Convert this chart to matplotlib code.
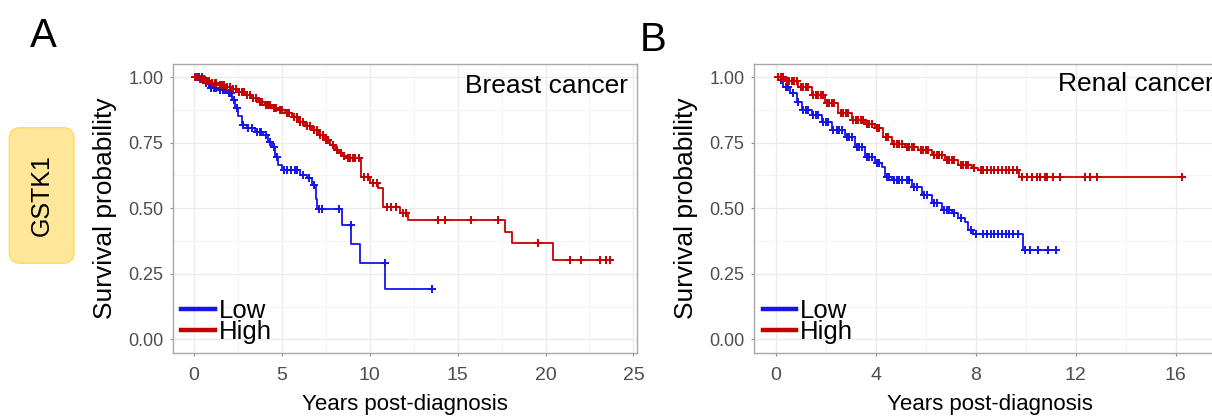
import numpy as np
import matplotlib
matplotlib.use("Agg")
import matplotlib.pyplot as plt
from matplotlib.patches import FancyBboxPatch
from matplotlib.lines import Line2D

plt.rcParams['font.family'] = ['Liberation Sans', 'DejaVu Sans']

# ---------------- data ----------------
group_labels = ["Low", "High"]
panel_titles = ["Breast cancer", "Renal cancer"]
panel_letters = ["A", "B"]
gene_label = "GSTK1"

# Breast cancer, Low expression
breast_low_t = [0, 0.65, 0.93, 1.41, 1.88, 2.17, 2.35, 2.54, 2.73, 3.02, 3.49, 3.97, 4.25, 4.48,
                4.63, 4.82, 5.01, 6.05, 6.43, 6.72, 6.94, 6.98, 7.02, 8.46, 8.97, 9.45, 10.9]
breast_low_s = [1.0, 0.977, 0.958, 0.951, 0.939, 0.913, 0.882, 0.850, 0.818, 0.805, 0.792, 0.780,
                0.754, 0.735, 0.697, 0.665, 0.646, 0.627, 0.614, 0.588, 0.563, 0.535, 0.499, 0.438,
                0.365, 0.293, 0.193]
breast_low_end = 13.55
breast_low_cens = [0.3, 0.5, 0.7, 0.85, 1.0, 1.15, 1.3, 1.5, 1.65, 1.8, 2.0, 2.1, 2.3, 2.45, 2.8,
                   3.1, 3.3, 3.6, 3.75, 3.85, 4.1, 4.35, 4.55, 4.75, 5.15, 5.3, 5.55, 5.75, 5.9,
                   6.2, 6.55, 6.85, 7.15, 7.3, 8.27, 8.93, 10.87, 13.55]

# Breast cancer, High expression
breast_high_t = [0, 0.3, 0.65, 1.0, 1.41, 1.8, 2.17, 2.55, 2.92, 3.3, 3.68, 4.05, 4.44, 4.8, 5.2,
                 5.6, 5.96, 6.35, 6.72, 7.1, 7.47, 7.75, 8.04, 8.25, 8.42, 8.7, 9.5, 10.03, 10.5,
                 10.76, 11.74, 12.21, 17.71, 18.09, 20.43]
breast_high_s = [1.0, 0.994, 0.986, 0.978, 0.971, 0.962, 0.955, 0.944, 0.932, 0.920, 0.907, 0.895,
                 0.884, 0.873, 0.862, 0.847, 0.830, 0.815, 0.799, 0.780, 0.760, 0.742, 0.722, 0.710,
                 0.700, 0.693, 0.620, 0.595, 0.576, 0.506, 0.480, 0.457, 0.410, 0.366, 0.302]
breast_high_end = 23.69
breast_high_cens = [0.1, 0.2, 0.35, 0.5, 0.6, 0.75, 0.9, 1.05, 1.2, 1.3, 1.5, 1.6, 1.75, 1.9, 2.05,
                    2.25, 2.4, 2.6, 2.75, 2.85, 3.05, 3.2, 3.4, 3.55, 3.75, 3.9, 4.1, 4.25, 4.35,
                    4.55, 4.7, 4.9, 5.05, 5.3, 5.45, 5.7, 5.85, 6.05, 6.2, 6.45, 6.6, 6.85, 7.0,
                    7.2, 7.35, 7.55, 7.65, 7.9, 8.15, 8.35, 8.55, 8.75, 8.9, 9.05, 9.2, 9.4, 9.7,
                    9.9, 10.2, 10.4, 11.0, 11.2, 11.5, 11.9, 12.1, 13.87, 14.26, 15.77, 17.29,
                    19.57, 21.37, 22.04, 23.08, 23.46, 23.69]

# Renal cancer, Low expression
renal_low_t = [0, 0.11, 0.31, 0.57, 0.84, 1.04, 1.44, 1.84, 2.24, 2.77, 3.17, 3.57, 3.97, 4.24,
               4.37, 4.64, 5.44, 5.84, 6.24, 6.64, 7.04, 7.3, 7.57, 7.7, 7.9, 9.9]
renal_low_s = [1.0, 0.990, 0.964, 0.939, 0.907, 0.875, 0.856, 0.830, 0.799, 0.773, 0.735, 0.697,
               0.671, 0.658, 0.620, 0.608, 0.582, 0.550, 0.519, 0.493, 0.480, 0.461, 0.448, 0.416,
               0.401, 0.340]
renal_low_end = 11.21
renal_low_cens = [0.2, 0.4, 0.5, 0.7, 0.9, 1.1, 1.2, 1.3, 1.5, 1.6, 1.7, 1.9, 2.0, 2.1, 2.3, 2.45,
                  2.55, 2.65, 2.85, 2.95, 3.05, 3.25, 3.35, 3.45, 3.65, 3.75, 3.85, 4.05, 4.15,
                  4.45, 4.55, 4.75, 4.85, 4.95, 5.05, 5.25, 5.35, 5.55, 5.65, 5.95, 6.05, 6.35,
                  6.45, 6.75, 6.85, 6.95, 7.15, 7.4, 7.8, 8.0, 8.3, 8.44, 8.6, 8.75, 8.9, 9.05,
                  9.2, 9.35, 9.5, 9.7, 9.97, 10.17, 10.5, 10.9, 11.21]

# Renal cancer, High expression
renal_high_t = [0, 0.37, 0.91, 1.44, 1.97, 2.5, 3.04, 3.57, 3.97, 4.3, 4.64, 5.17, 5.7, 6.24,
                6.77, 7.3, 7.84, 8.1, 9.75]
renal_high_s = [1.0, 0.986, 0.964, 0.932, 0.901, 0.862, 0.837, 0.820, 0.805, 0.773, 0.744, 0.735,
                0.722, 0.703, 0.684, 0.665, 0.655, 0.646, 0.618]
renal_high_end = 16.24
renal_high_cens = [0.1, 0.2, 0.3, 0.45, 0.55, 0.65, 0.75, 0.85, 1.0, 1.1, 1.2, 1.3, 1.5, 1.6, 1.7,
                   1.8, 1.9, 2.05, 2.15, 2.25, 2.35, 2.6, 2.7, 2.8, 2.9, 3.1, 3.2, 3.3, 3.4, 3.5,
                   3.65, 3.75, 3.85, 4.05, 4.15, 4.4, 4.5, 4.75, 4.85, 4.95, 5.05, 5.25, 5.35,
                   5.45, 5.55, 5.8, 5.9, 6.0, 6.1, 6.35, 6.45, 6.55, 6.65, 6.85, 6.95, 7.05, 7.15,
                   7.4, 7.5, 7.6, 7.7, 7.95, 8.2, 8.3, 8.45, 8.6, 8.75, 8.9, 9.05, 9.2, 9.35, 9.5,
                   9.65, 9.84, 10.04, 10.24, 10.44, 10.57, 10.77, 10.84, 11.11, 11.37, 12.37,
                   12.57, 12.84, 16.24]

x_ticks_A = [0, 5, 10, 15, 20, 25]
x_ticks_B = [0, 4, 8, 12, 16]
y_ticks = [0.0, 0.25, 0.5, 0.75, 1.0]

# ---------------- styling ----------------
COL_LOW = "#1515E8"
COL_HIGH = "#C40000"
GRID_MAJ = "#EBEBEB"
GRID_MIN = "#F4F4F4"
BORDER = "#A8A8A8"
TICK_LBL = "#4D4D4D"

fig = plt.figure(figsize=(12.12, 4.17), dpi=100)

axA = fig.add_axes([173/1212, 1 - 353/417, 464/1212, 289.5/417])
axB = fig.add_axes([754.3/1212, 1 - 353/417, 470.4/1212, 289.5/417])


def km(ax, t, s, end, cens, color):
    tt = list(t) + [end]
    ss = list(s) + [s[-1]]
    ax.step(tt, ss, where="post", color=color, lw=1.3, zorder=3)
    t_arr = np.asarray(t)
    s_arr = np.asarray(s)
    idx = np.searchsorted(t_arr, np.asarray(cens), side="right") - 1
    ax.plot(cens, s_arr[idx], linestyle="none", marker="+", ms=5.5, mew=1.4,
            color=color, zorder=4)


def style(ax, xlim, xticks, minor_x):
    ax.set_xlim(*xlim)
    ax.set_ylim(-0.052, 1.052)
    ax.set_xticks(xticks)
    ax.set_xticks(minor_x, minor=True)
    ax.set_yticks(y_ticks)
    ax.set_yticks([0.125, 0.375, 0.625, 0.875], minor=True)
    ax.set_yticklabels([f"{v:.2f}" for v in y_ticks])
    ax.grid(True, which="major", color=GRID_MAJ, lw=1.0, zorder=0)
    ax.grid(True, which="minor", color=GRID_MIN, lw=0.8, zorder=0)
    ax.set_axisbelow(True)
    for sp in ax.spines.values():
        sp.set_color(BORDER)
        sp.set_linewidth(1.0)
    ax.tick_params(which="major", length=2.5, width=0.8, color="#8C8C8C")
    ax.tick_params(which="minor", length=0)
    ax.tick_params(axis="x", labelsize=14, labelcolor=TICK_LBL, pad=7.5)
    ax.tick_params(axis="y", labelsize=13, labelcolor=TICK_LBL, pad=4.5)
    ax.set_xlabel("Years post-diagnosis", fontsize=16, labelpad=7)
    ax.set_ylabel("Survival probability", fontsize=19, labelpad=8)


km(axA, breast_low_t, breast_low_s, breast_low_end, breast_low_cens, COL_LOW)
km(axA, breast_high_t, breast_high_s, breast_high_end, breast_high_cens, COL_HIGH)
km(axB, renal_low_t, renal_low_s, renal_low_end, renal_low_cens, COL_LOW)
km(axB, renal_high_t, renal_high_s, renal_high_end, renal_high_cens, COL_HIGH)

style(axA, (-1.17, 25.2), x_ticks_A, [2.5, 7.5, 12.5, 17.5, 22.5])
style(axB, (-0.855, 17.96), x_ticks_B, [2, 6, 10, 14])

axA.text(0.9806, 0.899, panel_titles[0], transform=axA.transAxes, ha="right",
         va="baseline", fontsize=19)
axB.text(0.977, 0.906, panel_titles[1], transform=axB.transAxes, ha="right",
         va="baseline", fontsize=19)

for ax in (axA, axB):
    handles = [Line2D([], [], color=COL_LOW, lw=3.2),
               Line2D([], [], color=COL_HIGH, lw=3.2)]
    ax.legend(handles, group_labels, loc="lower left", bbox_to_anchor=(0.012, 0.022),
              frameon=False, fontsize=18.5, handlelength=1.3, handletextpad=0.15,
              labelspacing=-0.1, borderpad=0.1, borderaxespad=0.0)

fig.text(30/1212, 1 - 47/417, panel_letters[0], fontsize=29, va="baseline", ha="left")
fig.text(640/1212, 1 - 51/417, panel_letters[1], fontsize=29, va="baseline", ha="left")

box = FancyBboxPatch((0.093, 1.537), 0.647, 1.356,
                     boxstyle="round,pad=0,rounding_size=0.11",
                     transform=fig.dpi_scale_trans, facecolor="#FFE699",
                     edgecolor="#FFD966", lw=1.0)
fig.patches.append(box)
fig.text(41.7/1212, 1 - 195/417, gene_label, rotation=90, fontsize=18,
         ha="center", va="center")

fig.savefig("out.png", dpi=100)
